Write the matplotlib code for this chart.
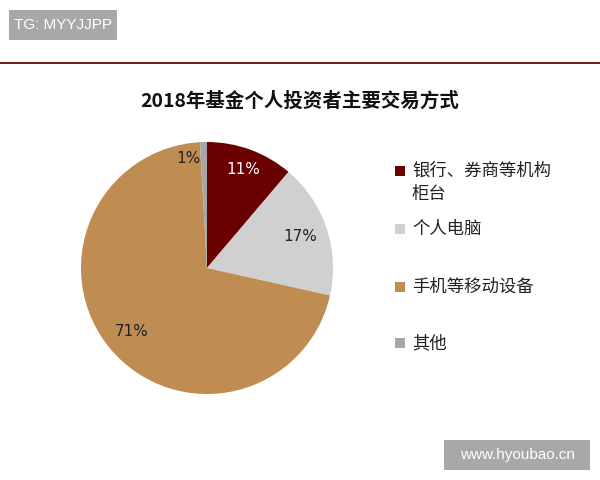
import matplotlib
matplotlib.use("Agg")
import matplotlib.pyplot as plt
from matplotlib.patches import Rectangle
import numpy as np

plt.rcParams['font.family'] = ['Noto Sans CJK SC', 'DejaVu Sans']

title = "2018年基金个人投资者主要交易方式"
categories = ["银行、券商等机构\n柜台", "个人电脑", "手机等移动设备", "其他"]
values = [11.2, 17.3, 70.6, 0.9]
pct_labels = ["11%", "17%", "71%", "1%"]
colors = ["#6B0000", "#D0D0D0", "#BF8D52", "#A6A6A6"]
label_colors = ["white", "#222222", "#222222", "#222222"]

W, H = 600, 480
fig = plt.figure(figsize=(6, 4.8), dpi=100)

# watermark top-left
fig.patches.append(Rectangle((9 / W, 1 - 40 / H), 108 / W, 30 / H, transform=fig.transFigure,
                             facecolor="#A8A8A8", edgecolor="none"))
fig.text(63 / W, 1 - 25 / H, "TG: MYYJJPP", color="white", fontsize=11,
         family="Liberation Sans", ha="center", va="center")

# red rule
fig.add_artist(plt.Line2D([0, 1], [1 - 63 / H, 1 - 63 / H], transform=fig.transFigure,
                          color="#5E0A0A", lw=1.3))

# title
fig.text(300 / W, 1 - 101 / H, title, fontsize=14, fontweight="bold",
         ha="center", va="center", color="#111111")

# pie
cx, cy, r = 207, 268, 126
ax = fig.add_axes([(cx - r) / W, (H - cy - r) / H, 2 * r / W, 2 * r / H])
wedges, texts = ax.pie(values, colors=colors, startangle=90, counterclock=False,
                       wedgeprops=dict(linewidth=0))
ax.set_xlim(-1, 1)
ax.set_ylim(-1, 1)
ax.set_aspect("equal")
ax.axis("off")

angles = 90 - (np.cumsum(values) - np.array(values) / 2) / sum(values) * 360
dists = [0.83, 0.78, 0.78, 0.88]
offsets = [0, 0, 0, 8]
for i, (a, lab) in enumerate(zip(angles, pct_labels)):
    aa = np.deg2rad(a + offsets[i])
    ax.text(dists[i] * np.cos(aa), dists[i] * np.sin(aa), lab, ha="center", va="center",
            fontsize=11, color=label_colors[i], family="DejaVu Sans")

# legend
ys = [171, 229, 287, 343]
for y, lab, c in zip(ys, categories, colors):
    fig.patches.append(Rectangle((395 / W, 1 - (y + 5) / H), 10 / W, 10 / H,
                                 transform=fig.transFigure, facecolor=c, edgecolor="none"))
    fig.text(412 / W, 1 - (y - 9) / H, lab, fontsize=12.5, ha="left", va="top",
             color="#222222", linespacing=1.35)

# watermark bottom-right
fig.patches.append(Rectangle((444 / W, 1 - 470 / H), 146 / W, 30 / H, transform=fig.transFigure,
                             facecolor="#A8A8A8", edgecolor="none"))
fig.text(517 / W, 1 - 455 / H, "www.hyoubao.cn", color="white", fontsize=11,
         family="Liberation Sans", ha="center", va="center")

fig.savefig("out.png", dpi=100)
